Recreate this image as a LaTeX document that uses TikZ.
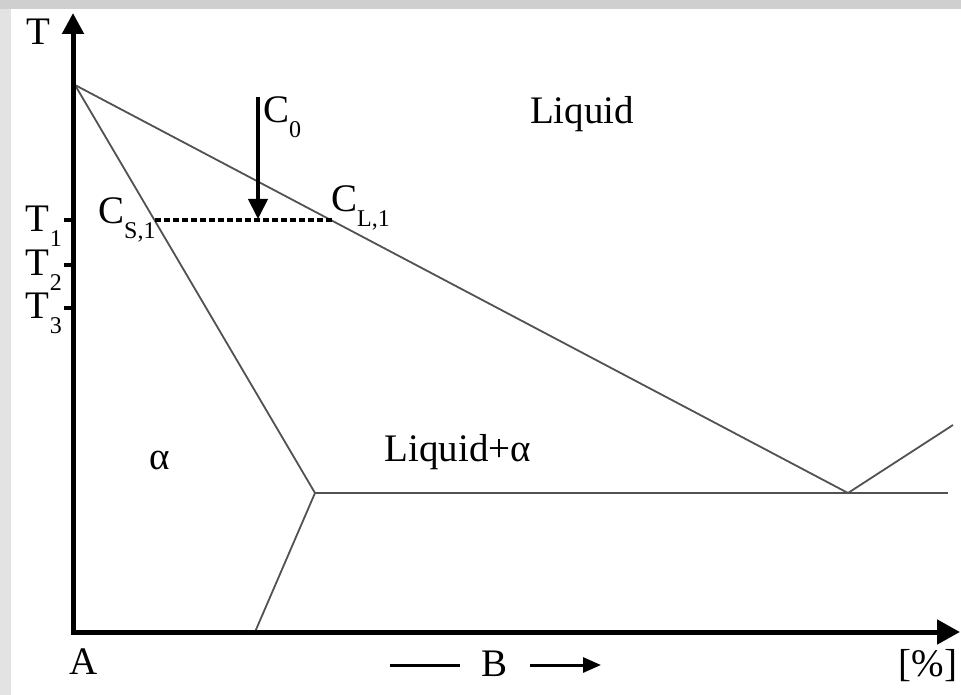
\documentclass[tikz,border=0pt]{standalone}
\usepackage{fontspec}
\setmainfont{Liberation Serif}
\usetikzlibrary{arrows.meta}
\newcommand{\sbs}[1]{\raisebox{-0.38em}{\fontsize{24}{24}\selectfont #1}}
\begin{document}
\begin{tikzpicture}[x=1pt,y=-1pt,
  lbl/.style={inner sep=0pt, font=\fontsize{39}{44}\selectfont},
  axisline/.style={line width=5pt, line join=miter},
  phase/.style={line width=1.8pt, draw=black!68},
  tickmark/.style={line width=4pt},
  dotline/.style={line width=4pt, dash pattern=on 6pt off 3pt},
  bigtip/.style={-{Triangle[length=22pt,width=21pt]}}]
\fill[black!19] (0,0) rectangle (961,695);
\fill[black!11] (0,9) rectangle (11,695);
\fill[white] (11,9) rectangle (961,695);
\useasboundingbox (0,0) rectangle (961,695);

% key points
\coordinate (O) at (73,632);
\coordinate (Ytip) at (73,13);
\coordinate (Xtip) at (960,632);
\coordinate (Top) at (75,85);
\coordinate (E1) at (315,493);
\coordinate (Eu) at (848,493);
\coordinate (Er) at (948,493);
\coordinate (Rl) at (953,425);
\coordinate (Sv) at (255,632);
\coordinate (Cs) at (155,220);
\coordinate (Cl) at (333,220);
\coordinate (C0top) at (258,97);
\coordinate (C0bot) at (258,219);

% phase boundaries
\draw[phase] (Top) -- (Eu) -- (Rl);
\draw[phase] (Top) -- (E1) -- (Sv);
\draw[phase] (E1) -- (Er);

% tie line
\draw[dotline] (Cs) -- (Cl);

% C0 arrow
\draw[line width=4pt, -{Triangle[length=20pt,width=19pt]}] (C0top) -- (C0bot);

% axes
\draw[axisline, {Triangle[length=21pt,width=21pt]}-{Triangle[length=23pt,width=24pt]}] (Ytip) -- (O) -- (Xtip);

% ticks
\coordinate (t1) at (73,220);
\coordinate (t2) at (73,265);
\coordinate (t3) at (73,308);
\draw[tickmark] (t1) -- ++(-9,0);
\draw[tickmark] (t2) -- ++(-9,0);
\draw[tickmark] (t3) -- ++(-9,0);

% labels
\node[lbl] (lT) at (38,32) {T};
\node[lbl, anchor=east] (lT1) at (62,226) {T\sbs{1}};
\node[lbl, anchor=east] (lT2) at (62,270) {T\sbs{2}};
\node[lbl, anchor=east] (lT3) at (62,313) {T\sbs{3}};
\node[lbl, anchor=west] (lCs) at (98,220) {C\sbs{S,1}};
\node[lbl, anchor=west] (lCl) at (331,208) {C\sbs{L,1}};
\node[lbl, anchor=west] (lC0) at (263,117) {C\sbs{0}};
\node[lbl] (lLiq) at (582,114) {Liquid};
\node[lbl] (lAl) at (160,460) {α};
\node[lbl] (lLa) at (458,452) {Liquid+α};
\node[lbl] (lA) at (84,662) {A};
\node[lbl] (lB) at (495,664) {B};
\node[lbl] (lPc) at (928,666) {[\%]};

% B arrow
\coordinate (d1) at (390,665);
\coordinate (d2) at (460,665);
\coordinate (a1) at (530,665);
\coordinate (a2) at (601,665);
\draw[line width=3pt] (d1) -- (d2);
\draw[line width=3pt, -{Triangle[length=18pt,width=15pt]}] (a1) -- (a2);
\end{tikzpicture}
\end{document}
